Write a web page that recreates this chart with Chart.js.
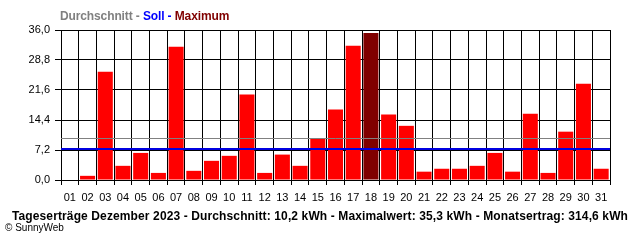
<!DOCTYPE html>
<html>
<head>
<meta charset="utf-8">
<script src="https://cdn.jsdelivr.net/npm/chart.js@4.4.1/dist/chart.umd.min.js"></script>
<style>
  html, body { margin: 0; padding: 0; background: #ffffff; }
  #wrap { position: relative; width: 640px; height: 240px; overflow: hidden; }
  #c { position: absolute; left: 0; top: 0; }
  .txt { position: absolute; white-space: nowrap; font-family: "Liberation Sans", Arial, sans-serif; }
  #legend { left: 60px; top: 9px; font-size: 12px; font-weight: bold; line-height: 14px; letter-spacing: -0.12px; }
  #footer { left: 0; width: 640px; text-align: center; top: 209px; font-size: 12px; font-weight: bold; line-height: 14px; color: #000; letter-spacing: 0.12px; }
  #copy { left: 5px; top: 222px; font-size: 10px; line-height: 12px; color: #000; }
</style>
</head>
<body>
<div id="wrap">
  <canvas id="c" width="640" height="240"></canvas>
  <div class="txt" id="legend"><span style="color:#808080">Durchschnitt - </span><span style="color:#0000ff">Soll - </span><span style="color:#800000">Maximum</span></div>
  <div class="txt" id="footer">Tageserträge Dezember 2023 - Durchschnitt: 10,2 kWh - Maximalwert: 35,3 kWh - Monatsertrag: 314,6 kWh</div>
  <div class="txt" id="copy">© SunnyWeb</div>
</div>
<script>
const days = ["01","02","03","04","05","06","07","08","09","10","11","12","13","14","15","16","17","18","19","20","21","22","23","24","25","26","27","28","29","30","31"];
const yields = [0, 1.0, 26.0, 3.4, 6.5, 1.7, 32.0, 2.2, 4.6, 5.8, 20.5, 1.7, 6.1, 3.4, 9.9, 16.9, 32.2, 35.3, 15.7, 13.0, 2.0, 2.7, 2.7, 3.4, 6.5, 2.0, 15.9, 1.7, 11.6, 23.1, 2.7];
const averageValue = 10.15;
const sollValue = 7.4;
const yTicks = [0, 7.2, 14.4, 21.6, 28.8, 36.0];

const maxVal = Math.max(...yields);
const barColors = yields.map(v => v === maxVal ? '#800000' : '#ff0000');

const refLines = {
  id: 'refLines',
  afterDraw(chart) {
    const ctx = chart.ctx;
    const y = chart.scales.y;
    const a = chart.chartArea;
    const lines = [
      { v: averageValue, color: '#808080', w: 1 },
      { v: sollValue, color: '#0000e0', w: 2 }
    ];
    ctx.save();
    lines.forEach(l => {
      const py = Math.round(y.getPixelForValue(l.v)) + (l.w % 2 ? 0.5 : 0);
      ctx.strokeStyle = l.color;
      ctx.lineWidth = l.w;
      ctx.beginPath();
      ctx.moveTo(a.left, py);
      ctx.lineTo(a.right, py);
      ctx.stroke();
    });
    ctx.restore();
  }
};

new Chart(document.getElementById('c'), {
  type: 'bar',
  data: {
    labels: days,
    datasets: [{
      data: yields,
      backgroundColor: barColors,
      borderWidth: 0,
      barPercentage: 0.85,
      categoryPercentage: 1.0
    }]
  },
  options: {
    responsive: false,
    animation: false,
    devicePixelRatio: 1,
    layout: { padding: { left: 0, top: 30, right: 30, bottom: 0 } },
    plugins: { legend: { display: false }, tooltip: { enabled: false }, title: { display: false } },
    scales: {
      x: {
        z: 1,
        offset: true,
        grid: { offset: true, color: '#000000', lineWidth: 1, drawTicks: true, tickLength: 5, tickColor: '#000000' },
        border: { display: true, color: '#000000', width: 1 },
        ticks: { color: '#000000', font: { family: 'Liberation Sans', size: 11 }, padding: 6, maxRotation: 0, autoSkip: false },
        afterFit(scale) { scale.height = 60; }
      },
      y: {
        z: 1,
        min: 0,
        max: 36,
        afterBuildTicks(scale) { scale.ticks = yTicks.map(v => ({ value: v })); },
        grid: { color: '#000000', lineWidth: 1, drawTicks: true, tickLength: 6, tickColor: '#000000' },
        border: { display: true, color: '#000000', width: 1 },
        ticks: {
          color: '#000000', font: { family: 'Liberation Sans', size: 11 }, padding: 5,
          callback: v => Number(v).toFixed(1).replace('.', ',')
        },
        afterFit(scale) { scale.width = 61; }
      }
    }
  },
  plugins: [refLines]
});
</script>
</body>
</html>
